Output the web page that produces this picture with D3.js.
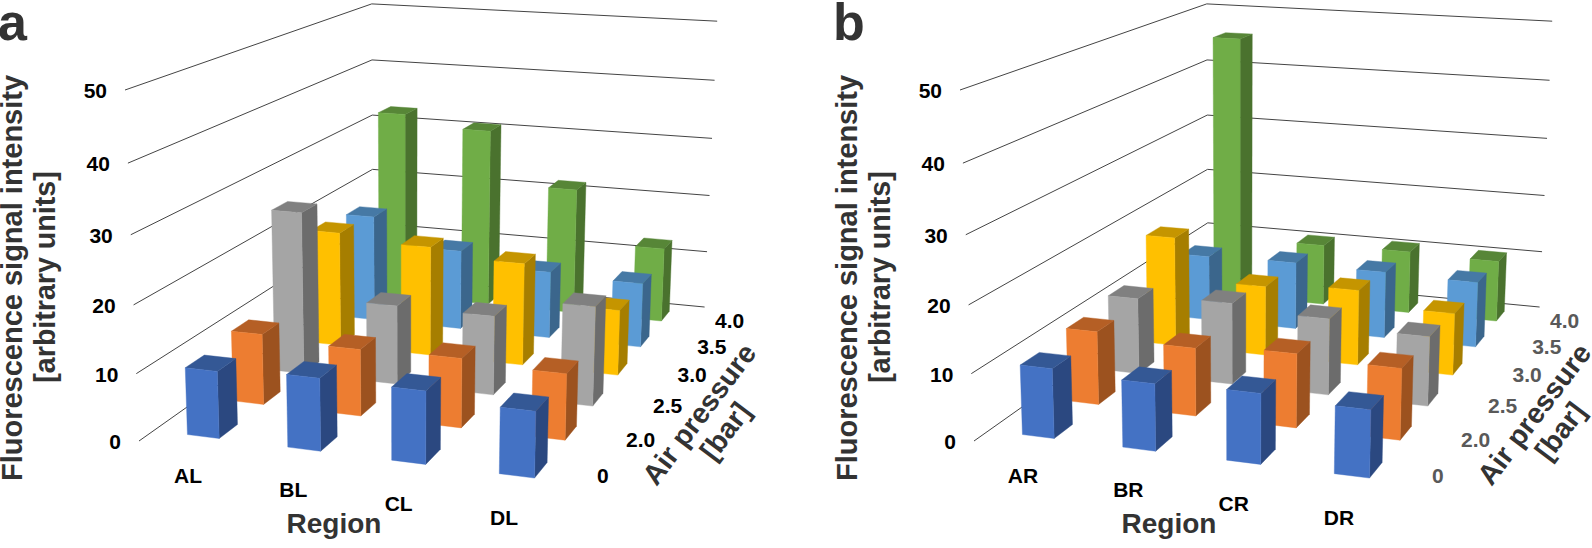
<!DOCTYPE html>
<html><head><meta charset="utf-8">
<script src="https://cdn.jsdelivr.net/npm/d3@7/dist/d3.min.js"></script>
<style>html,body{margin:0;padding:0;background:#fff}svg{display:block}text{font-family:"Liberation Sans",Arial,sans-serif;font-weight:700}</style>
</head><body><svg id="c" width="1592" height="548"></svg>
<script>
const regionsA=["AL","BL","CL","DL"];
const regionsB=["AR","BR","CR","DR"];
const pressures=["0","2.0","2.5","3.0","3.5","4.0"];
const yTicks=[0,10,20,30,40,50];
const a_p0=[10.0,10.7,10.6,9.5];
const a_p20=[10.9,10.2,10.5,9.9];
const a_p25=[25.8,12.5,12.4,15.4];
const a_p30=[18.9,17.9,16.6,10.5];
const a_p35=[18.0,13.4,11.2,10.7];
const a_p40=[32.7,30.8,21.7,12.7];
const b_p0=[10.4,9.9,10.25,9.7];
const b_p20=[11.3,10.4,11.2,10.7];
const b_p25=[12.15,12.9,12.0,10.8];
const b_p30=[18.1,11.4,12.25,10.0];
const b_p35=[11.1,11.4,11.2,10.9];
const b_p40=[45.8,10.6,10.8,10.5];
const seriesColors=[
 {front:"#4472C4",top:"#345895",side:"#2B4880"},
 {front:"#ED7D31",top:"#B55F25",side:"#9C521F"},
 {front:"#A5A5A5",top:"#808080",side:"#6C6C6C"},
 {front:"#FFC000",top:"#C59500",side:"#A67E00"},
 {front:"#5B9BD5",top:"#4679A5",side:"#3B668C"},
 {front:"#70AD47",top:"#578637",side:"#4A722E"}];
const pressureLabelCol=[4.22,4.32,4.35,4.38,4.38,4.38];

const X=d3.scaleLinear([0,4],[0,1]);
const Y=d3.scaleLinear([0,50],[0,1]);
const Z=d3.scaleLinear([0,6],[0,1]);
function project(xi,val,zi){
  const x=X(xi),y=Y(val),z=Z(zi);
  const w=1-0.0683*x-0.05*y+0.3083*z;
  return [(139+385.7*x-20.25*y+349*z)/w,(441+20.3*x-355.5*y-80.6*z)/w];
}
const svg=d3.select("#c");
const poly=d3.line();
const HW=0.16,HD=0.2;

function panel(letter,regions,series,dx,pressureFill){
  const g=svg.append("g").attr("transform",`translate(${dx},0)`);
  g.append("g").selectAll("path").data(yTicks).join("path")
   .attr("d",t=>poly([project(0,t,0),project(0,t,6),project(4,t,6)]))
   .attr("fill","none").attr("stroke","#444").attr("stroke-width",1);
  const bars=[];
  d3.range(5,-1,-1).forEach(zi=>regions.forEach((r,xi)=>bars.push({xi,zi,v:series[zi][xi]})));
  const gb=g.append("g").selectAll("g").data(bars).join("g");
  const corners=d=>{const x0=d.xi+.5-HW,x1=d.xi+.5+HW,z0=d.zi+.5-HD,z1=d.zi+.5+HD;return {x0,x1,z0,z1};};
  gb.append("path").attr("fill",d=>seriesColors[d.zi].side).attr("stroke",d=>seriesColors[d.zi].side).attr("stroke-width",.4)
   .attr("d",d=>{const c=corners(d);return poly([project(c.x1,0,c.z0),project(c.x1,0,c.z1),project(c.x1,d.v,c.z1),project(c.x1,d.v,c.z0)])+"Z";});
  gb.append("path").attr("fill",d=>seriesColors[d.zi].top).attr("stroke",d=>seriesColors[d.zi].top).attr("stroke-width",.4)
   .attr("d",d=>{const c=corners(d);return poly([project(c.x0,d.v,c.z0),project(c.x1,d.v,c.z0),project(c.x1,d.v,c.z1),project(c.x0,d.v,c.z1)])+"Z";});
  gb.append("path").attr("fill",d=>seriesColors[d.zi].front).attr("stroke",d=>seriesColors[d.zi].front).attr("stroke-width",.4)
   .attr("d",d=>{const c=corners(d);return poly([project(c.x0,0,c.z0),project(c.x1,0,c.z0),project(c.x1,d.v,c.z0),project(c.x0,d.v,c.z0)])+"Z";});
  g.append("g").selectAll("text").data(yTicks).join("text").text(d=>d)
   .attr("x",t=>project(0,t,0)[0]-18).attr("y",t=>project(0,t,0)[1]+8)
   .attr("text-anchor","end").attr("font-size",21).attr("fill","#000");
  const lx=d3.scalePoint(regions,[188,504]),ly=d3.scalePoint(regions,[483,525]);
  g.append("g").selectAll("text").data(regions).join("text").text(d=>d)
   .attr("x",lx).attr("y",ly).attr("text-anchor","middle").attr("font-size",21).attr("fill","#000");
  g.append("g").selectAll("text").data(pressures).join("text").text(d=>d)
   .attr("x",(d,i)=>project(pressureLabelCol[i],0,i+.5)[0]).attr("y",(d,i)=>project(pressureLabelCol[i],0,i+.5)[1]+5.5)
   .attr("text-anchor","middle").attr("font-size",21).attr("fill",pressureFill);
  const title="#333";
  g.append("text").text("Region").attr("x",334).attr("y",533).attr("text-anchor","middle").attr("font-size",28).attr("fill",title);
  g.append("text").text("Fluorescence signal intensity").attr("transform","translate(22,278) rotate(-90)").attr("text-anchor","middle").attr("font-size",29).attr("fill",title);
  g.append("text").text("[arbitrary units]").attr("transform","translate(55,277) rotate(-90)").attr("text-anchor","middle").attr("font-size",28.6).attr("fill",title);
  g.append("text").text("Air pressure").attr("transform","translate(699,414) rotate(-53)").attr("text-anchor","middle").attr("dy",10).attr("font-size",28.5).attr("fill",title);
  g.append("text").text("[bar]").attr("transform","translate(725,431) rotate(-53)").attr("text-anchor","middle").attr("dy",10).attr("font-size",28.5).attr("fill",title);
  g.append("text").text(letter).attr("x",-2).attr("y",40).attr("font-size",52).attr("fill",title);
}
panel("a",regionsA,[a_p0,a_p20,a_p25,a_p30,a_p35,a_p40],0,"#000");
panel("b",regionsB,[b_p0,b_p20,b_p25,b_p30,b_p35,b_p40],835,"#595959");
</script></body></html>
